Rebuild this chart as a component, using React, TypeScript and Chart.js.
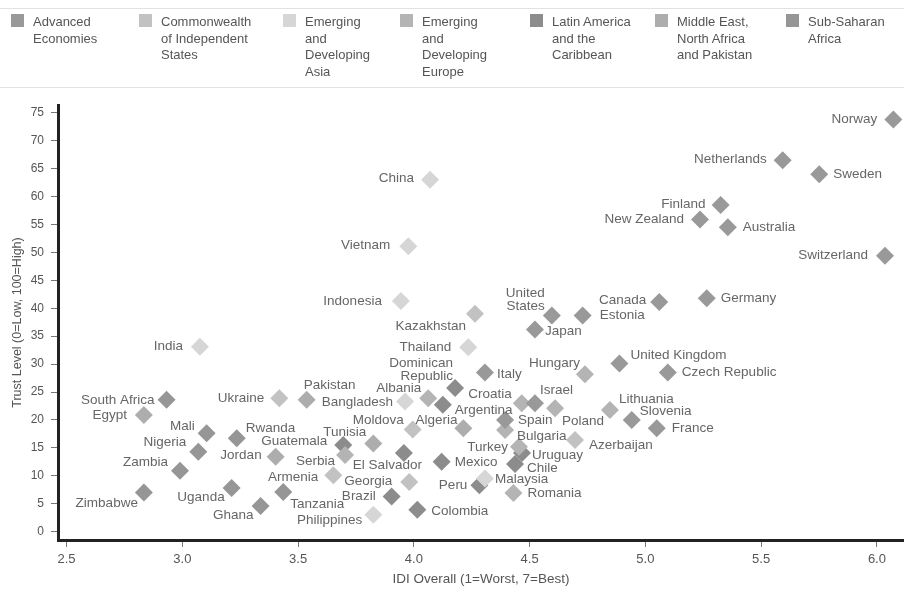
import React, { useEffect, useRef } from "react";
import { Chart, registerables } from "chart.js";

Chart.register(...registerables);

const FONT = "'Liberation Sans', Arial, Helvetica, sans-serif";

// ---------- data ----------
const groupNames = [
  "Advanced Economies",
  "Commonwealth of Independent States",
  "Emerging and Developing Asia",
  "Emerging and Developing Europe",
  "Latin America and the Caribbean",
  "Middle East, North Africa and Pakistan",
  "Sub-Saharan Africa",
];
const groupLegendLines = [
  ["Advanced", "Economies"],
  ["Commonwealth", "of Independent", "States"],
  ["Emerging", "and", "Developing", "Asia"],
  ["Emerging", "and", "Developing", "Europe"],
  ["Latin America", "and the", "Caribbean"],
  ["Middle East,", "North Africa", "and Pakistan"],
  ["Sub-Saharan", "Africa"],
];
const groupColors = ["#999999", "#c2c2c2", "#d6d6d6", "#b4b4b4", "#8c8c8c", "#adadad", "#969696"];

const advancedNames = ["Norway", "Netherlands", "Sweden", "Finland", "New Zealand", "Australia", "Switzerland", "Canada", "Germany", "United States", "Estonia", "Japan", "United Kingdom", "Czech Republic", "Slovenia", "France", "Israel", "Italy", "Spain"];
const advancedX = [6.071, 5.593, 5.751, 5.325, 5.236, 5.356, 6.035, 5.06, 5.265, 4.596, 4.729, 4.523, 4.888, 5.097, 4.941, 5.049, 4.523, 4.307, 4.394];
const advancedY = [73.8, 66.5, 64.0, 58.5, 55.9, 54.5, 49.4, 41.1, 41.8, 38.7, 38.7, 36.2, 30.1, 28.5, 20.0, 18.5, 23.0, 28.5, 20.0];

const cisNames = ["Ukraine", "Kazakhstan", "Moldova", "Azerbaijan", "Armenia", "Georgia"];
const cisX = [3.419, 4.264, 3.995, 4.696, 3.652, 3.98];
const cisY = [23.9, 39.0, 18.3, 16.4, 10.1, 8.9];

const asiaNames = ["China", "Vietnam", "Indonesia", "India", "Thailand", "Bangladesh", "Malaysia", "Philippines"];
const asiaX = [4.07, 3.976, 3.944, 3.076, 4.235, 3.962, 4.307, 3.825];
const asiaY = [63.0, 51.1, 41.3, 33.1, 33.0, 23.3, 9.5, 3.0];

const europeNames = ["Hungary", "Albania", "Croatia", "Poland", "Lithuania", "Bulgaria", "Turkey", "Serbia", "Romania"];
const europeX = [4.739, 4.062, 4.466, 4.61, 4.847, 4.394, 4.454, 3.703, 4.43];
const europeY = [28.2, 23.9, 23.0, 22.1, 21.8, 18.2, 15.2, 13.7, 6.9];

const latamNames = ["Dominican Republic", "Argentina", "Guatemala", "El Salvador", "Mexico", "Uruguay", "Chile", "Peru", "Brazil", "Colombia"];
const latamX = [4.178, 4.125, 3.695, 3.957, 4.12, 4.467, 4.437, 4.283, 3.904, 4.015];
const latamY = [25.7, 22.7, 15.5, 14.1, 12.5, 14.1, 12.1, 8.3, 6.3, 3.9];

const menaNames = ["Egypt", "Pakistan", "Jordan", "Tunisia", "Algeria"];
const menaX = [2.834, 3.537, 3.403, 3.825, 4.214];
const menaY = [20.9, 23.6, 13.4, 15.8, 18.5];

const ssaNames = ["South Africa", "Mali", "Rwanda", "Nigeria", "Zambia", "Zimbabwe", "Uganda", "Tanzania", "Ghana"];
const ssaX = [2.932, 3.105, 3.235, 3.069, 2.99, 2.834, 3.213, 3.436, 3.338];
const ssaY = [23.6, 17.6, 16.7, 14.3, 10.9, 7.0, 7.8, 7.1, 4.6];

const xTicks = [2.5, 3.0, 3.5, 4.0, 4.5, 5.0, 5.5, 6.0];
const yTicks = [0, 5, 10, 15, 20, 25, 30, 35, 40, 45, 50, 55, 60, 65, 70, 75];

const xTitle = "IDI Overall (1=Worst, 7=Best)";
const yTitle = "Trust Level (0=Low, 100=High)";

// ---------- label styling (placement of each country name, in pixels) ----------
const labelLines: Record<string, string[]> = {
  "United States": ["United", "States"],
  "Dominican Republic": ["Dominican", "Republic"],
};
// [align, dx, dy]  align: l = text starts at dx, r = text ends at dx, c = centred
const labelPlacement: Record<string, [string, number, number]> = {
  Norway: ["r", -16, 0],
  Netherlands: ["r", -16, -1],
  Sweden: ["l", 14, 0],
  Finland: ["r", -15, -1],
  "New Zealand": ["r", -16, 0],
  Australia: ["l", 15, 0],
  Switzerland: ["r", -17, 0],
  Canada: ["r", -13, -2],
  Estonia: ["l", 17, 0],
  Germany: ["l", 14, 0],
  "United States": ["r", -7, -22],
  Japan: ["l", 10, 2],
  Kazakhstan: ["r", -9, 12],
  Indonesia: ["r", -19, 0],
  Vietnam: ["r", -18, -1],
  China: ["r", -16, -2],
  India: ["r", -17, -1],
  "South Africa": ["r", -12, 0],
  Egypt: ["r", -17, 0],
  Ukraine: ["r", -15, 0],
  Mali: ["r", -12, -7],
  Nigeria: ["r", -12, -9],
  Zambia: ["r", -12, -8],
  Zimbabwe: ["r", -6, 11],
  Rwanda: ["l", 9, -10],
  Guatemala: ["r", -16, -4],
  Jordan: ["r", -14, -2],
  Uganda: ["r", -7, 9],
  Ghana: ["r", -7, 9],
  Armenia: ["r", -15, 2],
  Tanzania: ["l", 7, 12],
  Philippines: ["r", -11, 5],
  Brazil: ["r", -16, 0],
  Colombia: ["l", 14, 1],
  Georgia: ["r", -17, -1],
  Serbia: ["r", -10, 6],
  "El Salvador": ["r", 18, 12],
  Tunisia: ["r", -7, -11],
  Moldova: ["r", -9, -9],
  Algeria: ["r", -6, -8],
  Pakistan: ["c", 23, -15],
  Bangladesh: ["r", -12, 1],
  Albania: ["r", -7, -10],
  "Dominican Republic": ["r", -2, -25],
  Croatia: ["r", -10, -9],
  Argentina: ["l", 12, 5],
  Italy: ["l", 12, 2],
  Hungary: ["r", -5, -11],
  Thailand: ["r", -17, 0],
  Israel: ["l", 5, -13],
  Spain: ["l", 13, 0],
  Poland: ["l", 7, 13],
  Bulgaria: ["l", 12, 6],
  Azerbaijan: ["l", 14, 5],
  Turkey: ["r", -11, 1],
  Uruguay: ["l", 10, 2],
  Chile: ["l", 12, 4],
  Mexico: ["l", 13, 0],
  Malaysia: ["l", 10, 1],
  Peru: ["r", -12, 0],
  Romania: ["l", 14, 0],
  Lithuania: ["l", 9, -11],
  Slovenia: ["l", 8, -9],
  France: ["l", 15, 0],
  "United Kingdom": ["l", 11, -8],
  "Czech Republic": ["l", 14, 0],
};

const legendLeft = [11, 139, 283, 400, 530, 655, 786];

const groups = [
  { names: advancedNames, xs: advancedX, ys: advancedY },
  { names: cisNames, xs: cisX, ys: cisY },
  { names: asiaNames, xs: asiaX, ys: asiaY },
  { names: europeNames, xs: europeX, ys: europeY },
  { names: latamNames, xs: latamX, ys: latamY },
  { names: menaNames, xs: menaX, ys: menaY },
  { names: ssaNames, xs: ssaX, ys: ssaY },
];

const labelPlugin = {
  id: "countryLabels",
  afterDatasetsDraw(chart: any) {
    const ctx = chart.ctx;
    ctx.save();
    ctx.font = `13.5px ${FONT}`;
    ctx.fillStyle = "#666666";
    ctx.textBaseline = "middle";
    chart.data.datasets.forEach((ds: any, i: number) => {
      const meta = chart.getDatasetMeta(i);
      meta.data.forEach((el: any, j: number) => {
        const name = ds.data[j].name;
        const p = labelPlacement[name] ?? ["l", 12, 0];
        const lines = labelLines[name] ?? [name];
        ctx.textAlign = p[0] === "l" ? "left" : p[0] === "r" ? "right" : "center";
        lines.forEach((line: string, k: number) => {
          ctx.fillText(line, el.x + p[1], el.y + p[2] + k * 13);
        });
      });
    });
    ctx.restore();
  },
};

export default function App() {
  const canvasRef = useRef<HTMLCanvasElement | null>(null);

  useEffect(() => {
    if (!canvasRef.current) return;
    const datasets = groups.map((g, gi) => ({
      label: groupNames[gi],
      data: g.names.map((n, k) => ({ x: g.xs[k], y: g.ys[k], name: n })),
      pointStyle: "rectRot" as const,
      pointRadius: 9,
      pointHoverRadius: 9,
      pointBorderWidth: 0,
      backgroundColor: groupColors[gi],
      borderColor: groupColors[gi],
    }));
    const chart = new Chart(canvasRef.current, {
      type: "scatter",
      data: { datasets },
      plugins: [labelPlugin],
      options: {
        animation: false,
        responsive: true,
        maintainAspectRatio: false,
        layout: { autoPadding: false, padding: { top: 105, right: 0, bottom: 0, left: 0 } },
        plugins: { legend: { display: false }, tooltip: { enabled: false } },
        scales: {
          x: {
            type: "linear",
            min: 2.463,
            max: 6.117,
            afterBuildTicks: (s: any) => {
              s.ticks = xTicks.map((v) => ({ value: v }));
            },
            afterFit: (s: any) => {
              s.height = 49;
              s.paddingLeft = 0;
              s.paddingRight = 0;
            },
            ticks: {
              callback: (v: any) => Number(v).toFixed(1),
              font: { family: FONT, size: 13 },
              color: "#555555",
              padding: 5,
              maxRotation: 0,
            },
            grid: { drawOnChartArea: false, drawTicks: true, tickLength: 7, tickColor: "#777777", tickWidth: 1 },
            border: { display: true, color: "#222222", width: 3 },
            title: {
              display: true,
              text: xTitle,
              font: { family: FONT, size: 13.5 },
              color: "#555555",
              padding: { top: 0, bottom: 2 },
            },
          },
          y: {
            type: "linear",
            min: -1.5,
            max: 76.4,
            afterBuildTicks: (s: any) => {
              s.ticks = yTicks.map((v) => ({ value: v }));
            },
            afterFit: (s: any) => {
              s.width = 58;
              s.paddingTop = 0;
              s.paddingBottom = 0;
            },
            ticks: {
              font: { family: FONT, size: 12 },
              color: "#555555",
              padding: 7,
            },
            grid: { drawOnChartArea: false, drawTicks: true, tickLength: 7, tickColor: "#777777", tickWidth: 1 },
            border: { display: true, color: "#222222", width: 3 },
            title: {
              display: true,
              text: yTitle,
              font: { family: FONT, size: 12.5 },
              color: "#555555",
              padding: { top: 10, bottom: 0 },
            },
          },
        },
      } as any,
    });
    return () => chart.destroy();
  }, []);

  return (
    <div style={{ position: "absolute", left: 0, top: 0, width: 904, height: 589, background: "#fff", fontFamily: FONT }}>
      <canvas ref={canvasRef} />
      <div style={{ position: "absolute", left: 0, top: 8, width: 904, height: 0, borderTop: "1px solid #e2e2e2" }} />
      <div style={{ position: "absolute", left: 0, top: 87, width: 904, height: 0, borderTop: "1px solid #e2e2e2" }} />
      {groupNames.map((g, i) => (
        <div key={g} style={{ position: "absolute", left: legendLeft[i], top: 14 }}>
          <div style={{ position: "absolute", left: 0, top: 0, width: 13, height: 13, background: groupColors[i] }} />
          <div style={{ position: "absolute", left: 22, top: 0, fontSize: 13, lineHeight: "16.5px", color: "#555", whiteSpace: "nowrap" }}>
            {groupLegendLines[i].map((l, k) => (
              <div key={k}>{l}</div>
            ))}
          </div>
        </div>
      ))}
    </div>
  );
}
